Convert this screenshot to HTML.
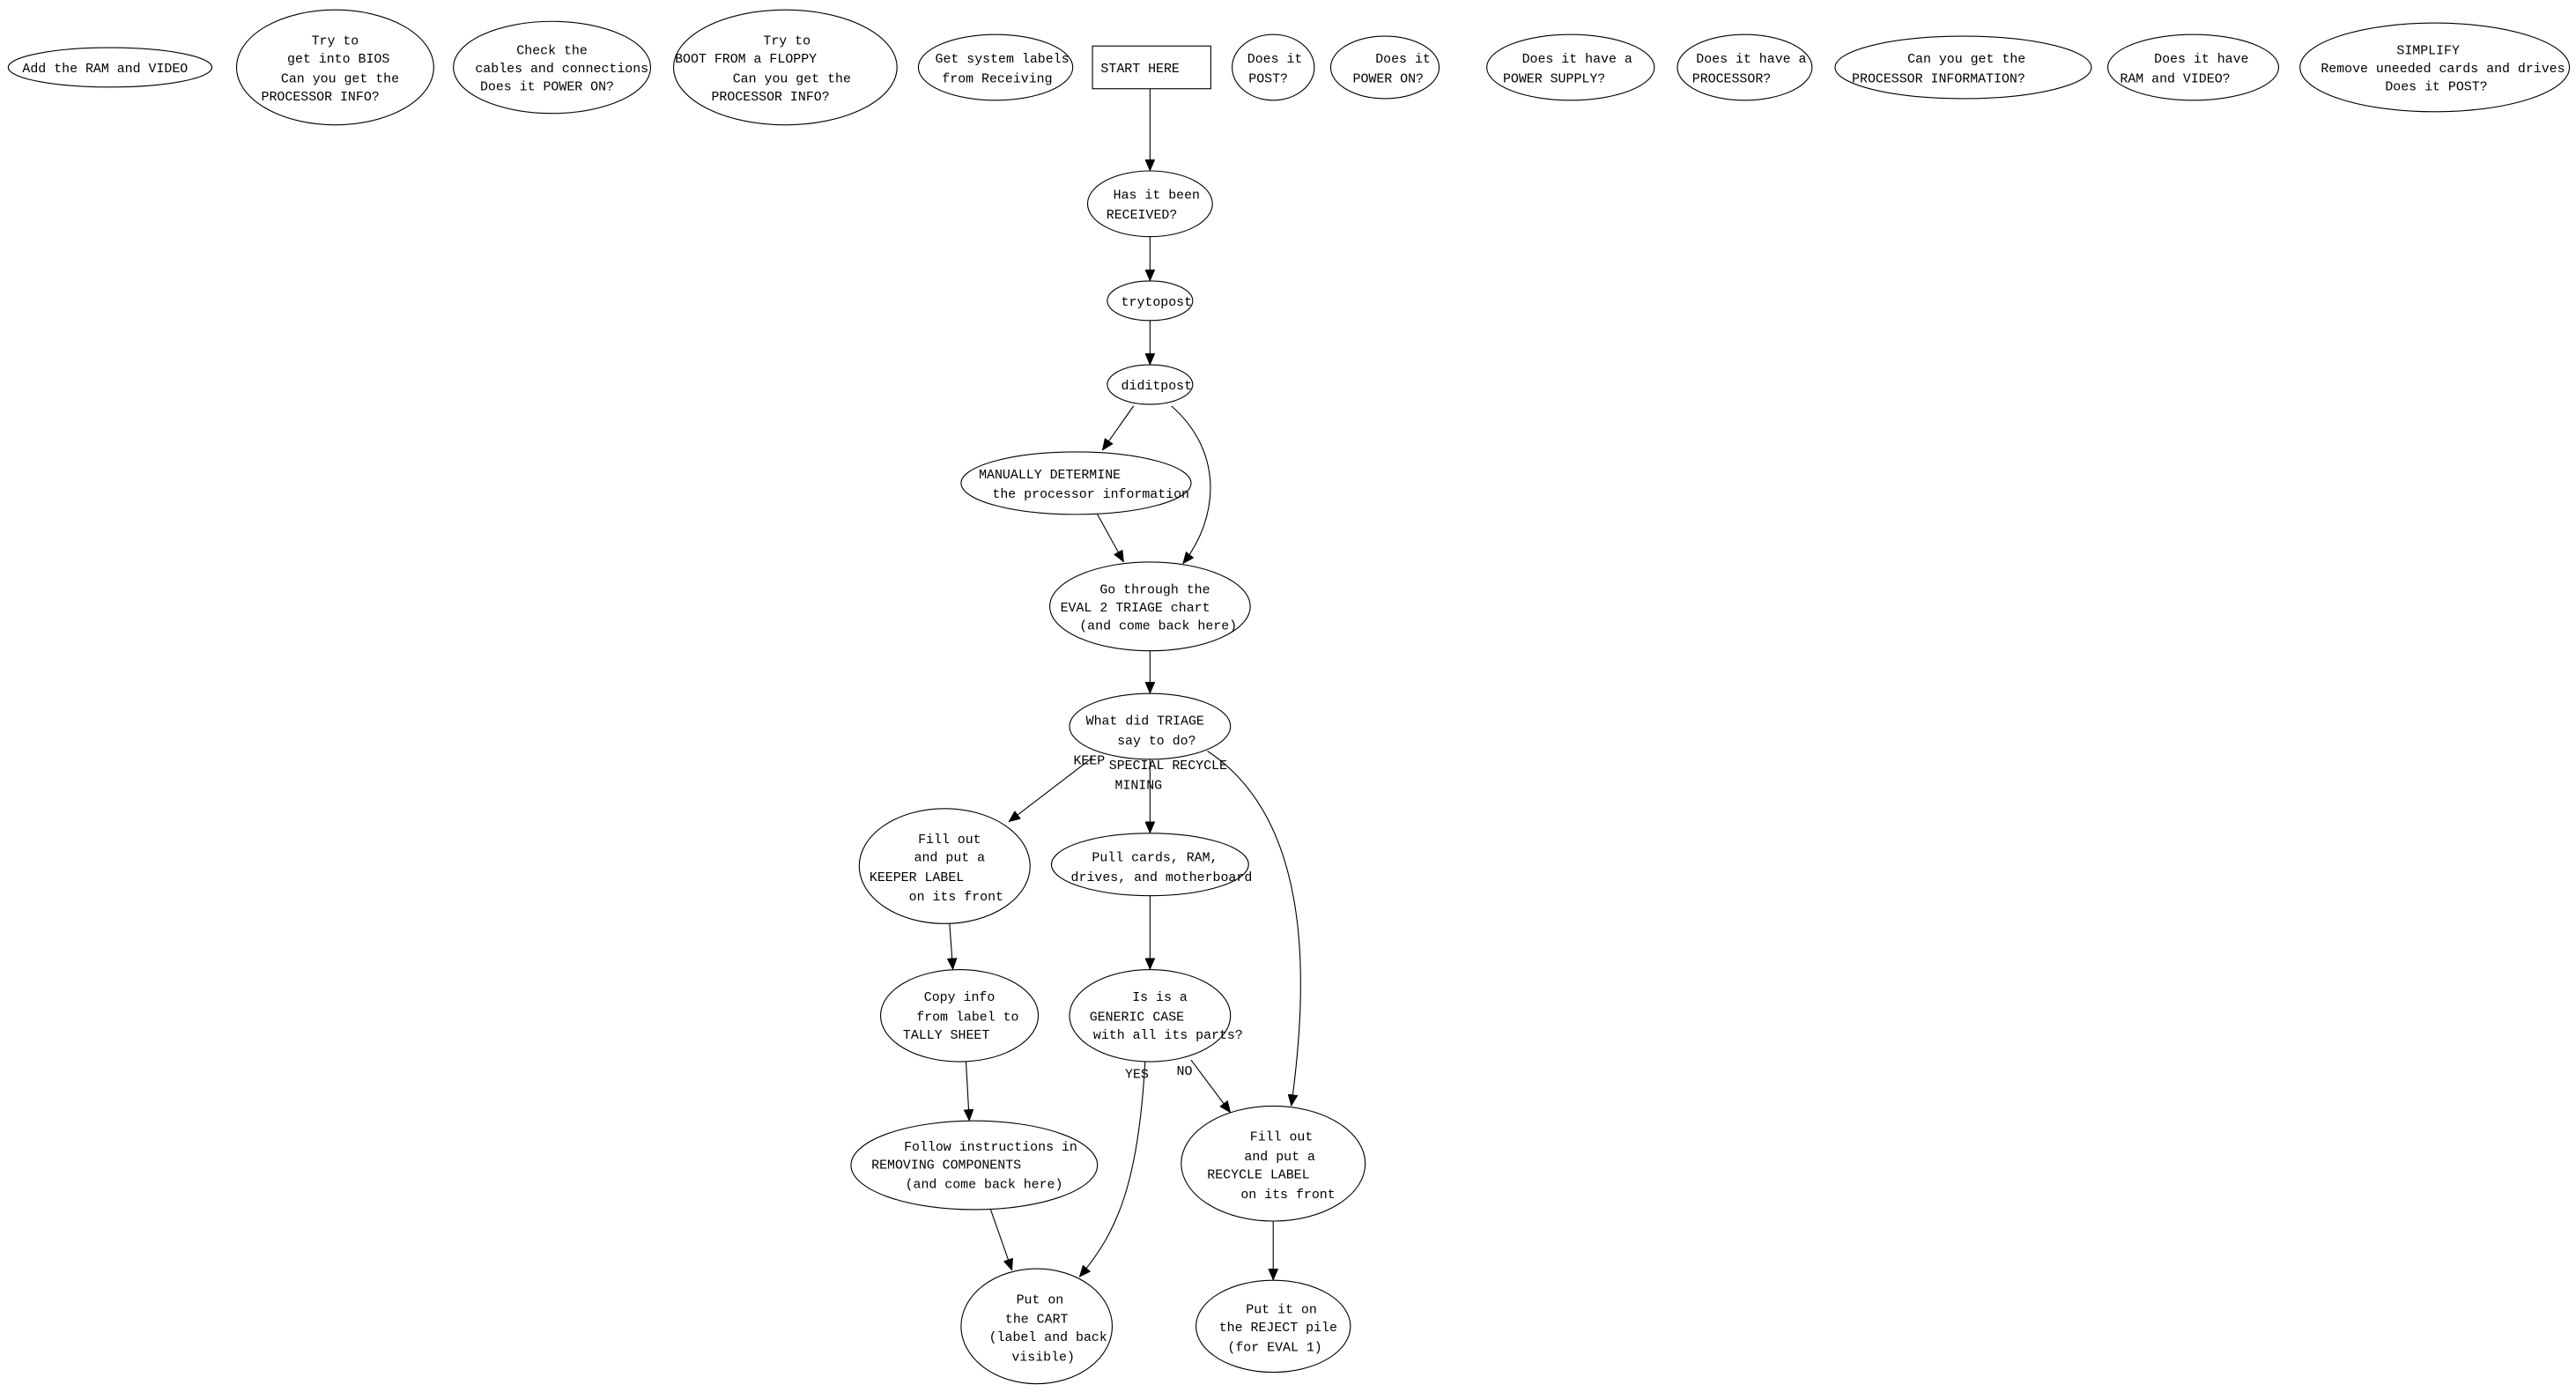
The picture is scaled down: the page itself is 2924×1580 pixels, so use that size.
<!DOCTYPE html>
<html><head><meta charset="utf-8"><style>
html,body{margin:0;padding:0;background:#fff;}
svg{display:block;}
text{font-family:"Liberation Mono",monospace;font-size:8px;fill:#000;text-anchor:middle;}
ellipse,rect{fill:none;stroke:#000;stroke-width:0.6;}
path,line{fill:none;stroke:#000;stroke-width:0.6;}
</style></head><body>
<svg width="2924" height="1580" viewBox="0 0 1568 847" preserveAspectRatio="none">
<defs><marker id="a" markerWidth="7" markerHeight="6" refX="7" refY="3" orient="auto" markerUnits="userSpaceOnUse"><path d="M0,0 L7,3 L0,6 Z" style="fill:#000;stroke:#000;stroke-width:0.3"/></marker></defs>

<ellipse cx="67" cy="41" rx="62" ry="12"/><text x="64" y="44">Add the RAM and VIDEO</text>
<ellipse cx="204" cy="41" rx="60" ry="35"/><text x="204" y="27">Try to</text><text x="206" y="38">get into BIOS</text><text x="207" y="50">Can you get the</text><text x="195" y="61">PROCESSOR INFO?</text>
<ellipse cx="336" cy="41" rx="60" ry="28"/><text x="336" y="33">Check the</text><text x="342" y="44">cables and connections</text><text x="333" y="55">Does it POWER ON?</text>
<ellipse cx="478" cy="41" rx="68" ry="35"/><text x="479" y="27">Try to</text><text x="454" y="38">BOOT FROM a FLOPPY</text><text x="482" y="50">Can you get the</text><text x="469" y="61">PROCESSOR INFO?</text>
<ellipse cx="606" cy="41" rx="47" ry="20"/><text x="610" y="38">Get system labels</text><text x="607" y="50">from Receiving</text>
<rect x="665" y="28" width="72" height="26"/><text x="694" y="44">START HERE</text>
<ellipse cx="775" cy="41" rx="25" ry="20"/><text x="776" y="38">Does it</text><text x="772" y="50">POST?</text>
<ellipse cx="843" cy="41" rx="33" ry="19"/><text x="854" y="38">Does it</text><text x="845" y="50">POWER ON?</text>
<ellipse cx="956" cy="41" rx="51" ry="20"/><text x="960" y="38">Does it have a</text><text x="946" y="50">POWER SUPPLY?</text>
<ellipse cx="1062" cy="41" rx="41" ry="20"/><text x="1066" y="38">Does it have a</text><text x="1054" y="50">PROCESSOR?</text>
<ellipse cx="1195" cy="41" rx="78" ry="19"/><text x="1197" y="38">Can you get the</text><text x="1180" y="50">PROCESSOR INFORMATION?</text>
<ellipse cx="1335" cy="41" rx="52" ry="20"/><text x="1340" y="38">Does it have</text><text x="1324" y="50">RAM and VIDEO?</text>
<ellipse cx="1482" cy="41" rx="82" ry="27"/><text x="1478" y="33">SIMPLIFY</text><text x="1487" y="44">Remove uneeded cards and drives</text><text x="1483" y="55">Does it POST?</text>

<ellipse cx="700" cy="124" rx="38" ry="20"/><text x="704" y="121">Has it been</text><text x="695" y="133">RECEIVED?</text>
<ellipse cx="700" cy="183" rx="26" ry="12"/><text x="704" y="186">trytopost</text>
<ellipse cx="700" cy="234" rx="26" ry="12"/><text x="704" y="237">diditpost</text>
<ellipse cx="655" cy="294" rx="70" ry="19"/><text x="639" y="291">MANUALLY DETERMINE</text><text x="664" y="303">the processor information</text>
<ellipse cx="700" cy="369" rx="61" ry="27"/><text x="703" y="361">Go through the</text><text x="691" y="372">EVAL 2 TRIAGE chart</text><text x="705" y="383">(and come back here)</text>
<ellipse cx="700" cy="442" rx="49" ry="20"/><text x="697" y="441">What did TRIAGE</text><text x="704" y="453">say to do?</text>
<ellipse cx="575" cy="527" rx="52" ry="35"/><text x="578" y="513">Fill out</text><text x="578" y="524">and put a</text><text x="558" y="536">KEEPER LABEL</text><text x="582" y="548">on its front</text>
<ellipse cx="700" cy="526" rx="60" ry="19"/><text x="703" y="524">Pull cards, RAM,</text><text x="707" y="536">drives, and motherboard</text>
<ellipse cx="584" cy="618" rx="48" ry="28"/><text x="584" y="609">Copy info</text><text x="589" y="621">from label to</text><text x="576" y="632">TALLY SHEET</text>
<ellipse cx="700" cy="618" rx="49" ry="28"/><text x="706" y="609">Is is a</text><text x="692" y="621">GENERIC CASE</text><text x="711" y="632">with all its parts?</text>
<ellipse cx="593" cy="709" rx="75" ry="27"/><text x="603" y="700">Follow instructions in</text><text x="576" y="711">REMOVING COMPONENTS</text><text x="599" y="723">(and come back here)</text>
<ellipse cx="775" cy="708" rx="56" ry="35"/><text x="780" y="694">Fill out</text><text x="779" y="706">and put a</text><text x="766" y="717">RECYCLE LABEL</text><text x="784" y="729">on its front</text>
<ellipse cx="631" cy="807" rx="46" ry="35"/><text x="633" y="793">Put on</text><text x="631" y="805">the CART</text><text x="638" y="816">(label and back</text><text x="635" y="828">visible)</text>
<ellipse cx="775" cy="807" rx="47" ry="28"/><text x="780" y="799">Put it on</text><text x="778" y="810">the REJECT pile</text><text x="776" y="822">(for EVAL 1)</text>

<line x1="700" y1="54" x2="700" y2="104" marker-end="url(#a)"/>
<line x1="700" y1="144" x2="700" y2="171" marker-end="url(#a)"/>
<line x1="700" y1="195" x2="700" y2="222" marker-end="url(#a)"/>
<line x1="690" y1="247" x2="671" y2="274" marker-end="url(#a)"/>
<path d="M713,247 C745,275 742,315 720,343" marker-end="url(#a)"/>
<line x1="668" y1="313" x2="684" y2="342" marker-end="url(#a)"/>
<line x1="700" y1="396" x2="700" y2="422" marker-end="url(#a)"/>
<line x1="665" y1="461" x2="614" y2="500" marker-end="url(#a)"/>
<line x1="700" y1="462" x2="700" y2="507" marker-end="url(#a)"/>
<path d="M735,457 C800,500 796,600 786,673" marker-end="url(#a)"/>
<line x1="578" y1="562" x2="580" y2="590" marker-end="url(#a)"/>
<line x1="700" y1="545" x2="700" y2="590" marker-end="url(#a)"/>
<line x1="588" y1="646" x2="590" y2="682" marker-end="url(#a)"/>
<line x1="725" y1="645" x2="749" y2="677" marker-end="url(#a)"/>
<path d="M697,646 C693,720 680,750 657,777" marker-end="url(#a)"/>
<line x1="603" y1="736" x2="616" y2="773" marker-end="url(#a)"/>
<line x1="775" y1="743" x2="775" y2="779" marker-end="url(#a)"/>

<text x="663" y="465">KEEP</text>
<text x="711" y="468">SPECIAL RECYCLE</text>
<text x="693" y="480">MINING</text>
<text x="692" y="656">YES</text>
<text x="721" y="654">NO</text>
</svg>
</body></html>
